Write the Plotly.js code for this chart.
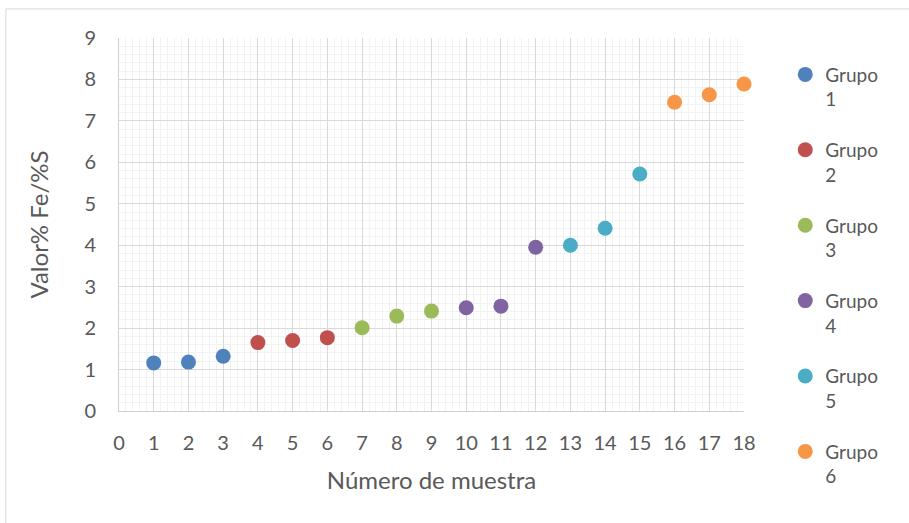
<!DOCTYPE html>
<html>
<head>
<meta charset="utf-8">
<script src="https://cdn.plot.ly/plotly-3.0.1.min.js"></script>
<style>html,body{margin:0;padding:0;background:#fff;}#chart{width:909px;height:523px;}</style>
</head>
<body>
<div id="chart"></div>
<script>
const groupNames = ["Grupo<br>1","Grupo<br>2","Grupo<br>3","Grupo<br>4","Grupo<br>5","Grupo<br>6"];
const groupColors = ["#4F81BD","#C0504D","#9BBB59","#8064A2","#4BACC6","#F79646"];
const groupX = [[1,2,3],[4,5,6],[7,8,9],[10,11,12],[13,14,15],[16,17,18]];
const groupY = [[1.16,1.18,1.32],[1.65,1.70,1.77],[2.01,2.29,2.41],[2.49,2.53,3.95],[4.00,4.41,5.72],[7.45,7.63,7.89]];
const xTicks = [0,1,2,3,4,5,6,7,8,9,10,11,12,13,14,15,16,17,18];
const yTicks = [0,1,2,3,4,5,6,7,8,9];

const FONT = "Lato, 'Open Sans', sans-serif";
const traces = groupNames.map((n,i)=>({
  type:'scatter', mode:'markers', name:n, x:groupX[i], y:groupY[i],
  legendgroup:'g'+i,
  marker:{color:groupColors[i], size:15},
  cliponaxis:false
}));

const layout = {
  width:909, height:523,
  margin:{l:119, r:165, t:38, b:112},
  paper_bgcolor:'#fff', plot_bgcolor:'#fff',
  font:{family:FONT, color:'#595959', size:20},
  xaxis:{range:[0,18], tickvals:xTicks, ticktext:xTicks.map(String), showgrid:true, gridcolor:'#d9d9d9', gridwidth:1,
    minor:{dtick:0.2, showgrid:true, gridcolor:'#f2f2f2', gridwidth:1},
    zeroline:false, showline:true, linecolor:'#d0d0d0', ticks:'', ticklen:0, ticklabelstandoff:14,
    tickfont:{size:20, color:'#595959'},
    title:{text:'Número de muestra', font:{size:24, color:'#595959'}, standoff:19}, fixedrange:true},
  yaxis:{range:[0,9], tickvals:yTicks, ticktext:yTicks.map(String), showgrid:true, gridcolor:'#d9d9d9', gridwidth:1,
    minor:{dtick:0.2, showgrid:true, gridcolor:'#f2f2f2', gridwidth:1},
    zeroline:false, showline:true, linecolor:'#d0d0d0', ticks:'', ticklen:0, ticklabelstandoff:18,
    tickfont:{size:20, color:'#595959'},
    title:{text:'Valor% Fe/%S', font:{size:24, color:'#595959'}, standoff:28}, fixedrange:true},
  legend:{x:1.066, y:0.953, xanchor:'left', yanchor:'top', valign:'top', font:{size:19, color:'#595959'},
    tracegroupgap:23, itemwidth:30, maxheight:480, bgcolor:'rgba(0,0,0,0)'},
  showlegend:true,
  shapes:[{type:'rect', xref:'paper', yref:'paper', x0:-0.181, x1:1.4, y0:-0.4, y1:1.078,
    line:{color:'#d9d9d9', width:1}, fillcolor:'rgba(0,0,0,0)', layer:'below'}]
};
Plotly.newPlot('chart', traces, layout, {staticPlot:true});
</script>
</body>
</html>
